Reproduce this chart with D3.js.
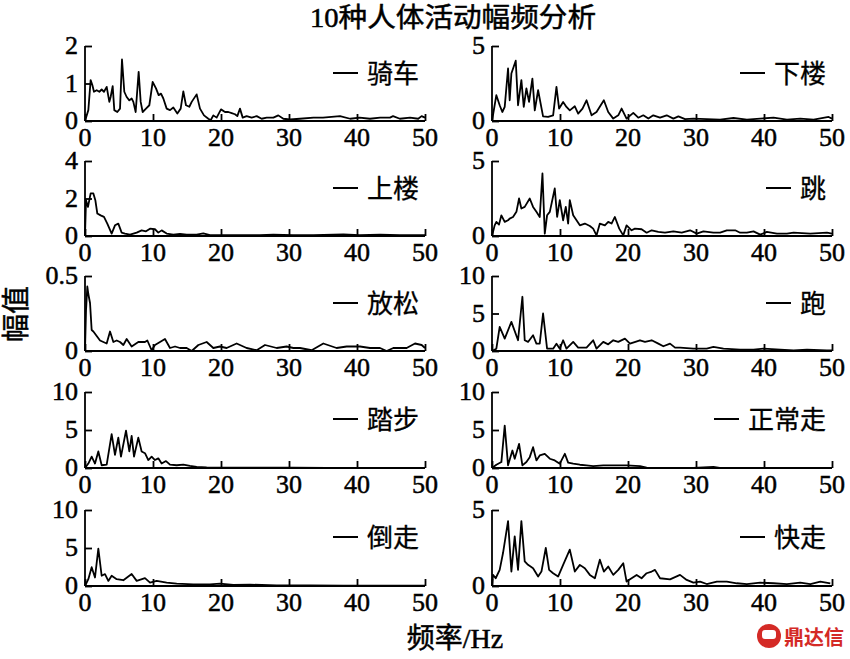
<!DOCTYPE html>
<html><head><meta charset="utf-8">
<script src="https://cdn.jsdelivr.net/npm/d3@7"></script>
<style>
html,body{margin:0;padding:0;background:#fff;}
svg{display:block;}
</style></head>
<body>
<svg id="c" width="850" height="659"></svg>
<script>
// ---- Data: [frequency Hz, amplitude] ----
const qiche = [[0,0],[0.49,0.29],[0.83,1.09],[1.08,0.96],[1.32,0.78],[1.72,0.82],[2.11,0.78],[2.45,0.84],[2.79,0.78],[3.19,0.91],[3.58,0.51],[3.77,0.64],[4.07,0.93],[4.31,0.29],[4.75,0.24],[5.15,0.33],[5.44,1.64],[5.78,0.78],[6.13,0.64],[6.52,0.55],[6.86,0.6],[7.11,0.51],[7.45,0.24],[7.89,1.31],[8.19,0.51],[8.48,0.24],[8.97,0.33],[9.46,0.42],[9.95,1.04],[10.44,0.87],[10.83,0.69],[11.18,0.73],[11.52,0.6],[12.01,0.33],[12.5,0.29],[12.99,0.36],[13.58,0.2],[14.07,0.33],[14.46,0.79],[14.85,0.42],[15.34,0.38],[15.69,0.51],[16.42,0.71],[16.91,0.33],[17.5,0.15],[18.14,0.06],[18.48,0.02],[18.87,0.15],[19.36,0.09],[20.0,0.31],[20.59,0.24],[21.08,0.24],[21.57,0.21],[22.06,0.18],[22.4,0.13],[22.79,0.33],[23.19,0.09],[23.77,0.13],[24.51,0.09],[25.25,0.13],[25.98,0.06],[26.72,0.09],[27.7,0.09],[28.43,0.15],[29.17,0.06],[30.15,0.04],[31.6,0.06],[33.6,0.09],[35.0,0.09],[37.5,0.13],[39.0,0.06],[40.4,0.09],[41.9,0.06],[43.4,0.09],[44.85,0.09],[45.3,0.13],[46.3,0.06],[47.8,0.09],[49.0,0.06],[49.5,0.13],[50,0.09]];
const xialou = [[0,0],[0.64,1.72],[1.13,1.05],[1.52,0.6],[1.87,0.94],[2.36,3.5],[2.6,1.38],[2.85,3.17],[3.49,4.02],[3.83,1.05],[4.32,2.72],[4.67,0.94],[5.06,2.17],[5.45,1.27],[5.94,2.83],[6.29,0.71],[6.78,2.05],[7.51,0.31],[8.25,0.27],[8.99,0.38],[9.48,2.28],[9.87,0.83],[10.46,1.27],[10.95,0.94],[11.44,0.71],[12.18,0.98],[12.67,0.49],[13.31,0.83],[13.9,1.38],[14.64,0.38],[15.37,0.6],[16.45,1.38],[17.09,0.6],[17.83,0.16],[18.57,0.38],[19.06,0.83],[19.79,0.16],[20.78,0.54],[21.51,0.22],[22.25,0.38],[22.99,0.16],[23.72,0.38],[24.71,0.22],[25.69,0.38],[26.67,0.16],[27.41,0.31],[28.39,0.13],[29.62,0.16],[31.58,0.13],[33.55,0.09],[35.51,0.2],[37.48,0.09],[39.44,0.16],[41.4,0.22],[43.37,0.09],[45.33,0.16],[47.3,0.09],[49.5,0.27],[50,0.16]];
const shanglou = [[0,0],[0.15,1.91],[0.44,1.55],[0.83,2.27],[1.23,2.27],[1.52,1.91],[1.81,1.2],[2.3,1.1],[2.79,1.02],[3.28,0.66],[3.92,0.13],[4.41,0.57],[4.9,0.66],[5.39,0.18],[5.88,0.13],[6.62,0.07],[7.6,0.18],[8.33,0.3],[8.97,0.25],[9.56,0.39],[10.29,0.36],[10.78,0.18],[11.27,0.3],[12.01,0.13],[12.99,0.07],[13.97,0.11],[14.95,0.07],[16.42,0.07],[17.4,0.14],[18.38,0.05],[20.83,0.05],[23.77,0.04],[25.7,0.04],[27.7,0.07],[30.6,0.04],[33.6,0.04],[38,0.09],[40.4,0.04],[43.4,0.07],[46.3,0.04],[50,0.04]];
const tiao = [[0,0],[0.39,0.71],[0.64,0.94],[1.03,0.76],[1.38,1.38],[1.87,0.94],[2.36,1.05],[2.6,1.16],[3.09,1.27],[3.59,1.61],[3.98,2.5],[4.32,1.83],[4.81,1.94],[5.55,2.5],[6.04,1.94],[6.53,1.61],[7.02,1.27],[7.42,4.17],[7.76,0.16],[8.1,1.38],[8.5,1.61],[9.23,3.17],[9.58,1.27],[9.97,2.39],[10.46,1.05],[10.85,1.94],[11.2,0.83],[11.44,2.39],[11.94,1.38],[12.43,1.05],[12.92,0.71],[13.65,0.83],[14.39,0.67],[14.88,0.49],[15.37,0.04],[15.86,0.83],[16.6,0.71],[17.09,0.94],[17.58,0.83],[18.07,1.27],[18.71,0.49],[19.3,0.04],[19.79,0.71],[20.53,0.38],[21.02,0.49],[22.0,0.45],[22.74,0.22],[23.48,0.38],[24.46,0.27],[25.44,0.22],[26.67,0.31],[27.9,0.22],[29.13,0.38],[30.11,0.16],[31.09,0.31],[32.56,0.22],[33.55,0.22],[34.53,0.38],[35.76,0.38],[36.49,0.22],[37.48,0.22],[38.46,0.31],[39.44,0.09],[40.42,0.27],[41.9,0.16],[43.37,0.16],[44.35,0.22],[46.81,0.16],[49.26,0.22],[50,0.16]];
const fangsong = [[0,0],[0.15,0.27],[0.34,0.43],[0.49,0.38],[0.74,0.32],[0.98,0.14],[1.23,0.13],[1.72,0.1],[2.21,0.07],[2.7,0.06],[3.19,0.05],[3.68,0.13],[4.17,0.06],[4.66,0.07],[5.15,0.06],[5.64,0.04],[6.13,0.08],[6.86,0.03],[7.84,0.06],[8.82,0.06],[9.17,0.07],[9.8,0.005],[10.29,0.04],[11.03,0.06],[11.76,0.08],[12.5,0.02],[13.24,0.03],[13.97,0.02],[14.95,0.02],[15.69,0.0],[16.67,0.04],[17.89,0.06],[18.87,0.02],[19.85,0.03],[20.83,0.02],[22.3,0.05],[23.77,0.02],[25.25,0.005],[26.47,0.04],[28.19,0.02],[29.66,0.03],[30.64,0.02],[31.62,0.02],[33.33,0.005],[35.05,0.05],[37.0,0.02],[38.48,0.03],[40.44,0.03],[41.91,0.02],[43.38,0.02],[44.36,0.0],[45.34,0.02],[46.32,0.02],[47.3,0.02],[48.53,0.05],[49.51,0.04],[50,0.02]];
const pao = [[0,0],[0.64,0.31],[1.13,3.21],[1.87,1.65],[2.85,3.88],[3.83,1.43],[4.47,7.23],[4.81,1.43],[5.3,1.21],[6.04,2.1],[6.53,0.98],[7.02,0.98],[7.51,5.0],[8.1,0.31],[8.99,0.31],[9.48,0.98],[9.97,0.31],[10.46,1.43],[10.95,0.31],[11.94,1.21],[12.67,0.45],[13.9,0.45],[14.88,1.43],[15.37,0.31],[16.36,1.21],[17.09,0.89],[17.83,1.43],[18.57,1.21],[19.55,1.65],[20.29,0.98],[21.76,1.43],[22.5,1.21],[23.48,1.43],[24.46,0.98],[25.2,0.63],[26.18,0.98],[26.92,0.45],[27.65,0.45],[29.62,0.31],[31.58,0.31],[32.56,0.54],[34.04,0.31],[36.49,0.18],[38.46,0.18],[39.93,0.31],[42.39,0.18],[44.35,0.09],[46.32,0.18],[49.26,0.09],[50,0.09]];
const tabu = [[0,0],[0.49,0.59],[0.98,1.5],[1.47,0.59],[1.96,2.18],[2.45,0.36],[3.19,0.45],[3.92,4.45],[4.41,1.73],[4.9,4.0],[5.29,1.5],[6.03,4.91],[6.52,2.18],[6.86,4.23],[7.21,1.5],[7.84,4.0],[8.33,2.18],[8.82,1.95],[9.31,1.05],[9.8,1.5],[10.29,1.05],[10.78,1.27],[11.27,0.59],[11.91,0.91],[12.5,0.45],[13.48,0.36],[14.46,0.45],[15.44,0.27],[16.42,0.14],[17.89,0.09],[20.83,0.05],[25.74,0.05],[30.64,0.05],[35.54,0.02],[40.44,0.02],[50,0.02]];
const zhengchang = [[0,0],[0.64,0.43],[1.38,0.78],[1.87,5.57],[2.36,0.35],[3.0,2.3],[3.34,1.22],[3.98,3.17],[4.47,0.35],[5.06,0.78],[5.55,1.43],[6.04,2.74],[6.53,1.0],[7.02,1.65],[7.76,1.87],[8.5,1.22],[9.23,1.0],[9.97,0.57],[10.71,1.87],[11.2,0.7],[11.94,0.57],[12.92,0.43],[13.9,0.35],[14.88,0.26],[16.36,0.35],[17.83,0.35],[19.79,0.35],[21.76,0.26],[22.74,0.04],[29.6,0.0],[32.56,0.13],[33.5,0],[50,0]];
const daozou = [[0,0],[0.49,0.9],[0.98,2.47],[1.47,1.12],[1.96,4.93],[2.45,1.35],[2.94,1.57],[3.43,0.67],[3.92,1.35],[4.66,0.9],[5.64,0.76],[6.86,1.57],[7.6,0.67],[8.82,1.03],[9.56,0.45],[10.54,0.67],[12.01,0.45],[13.48,0.31],[15.93,0.22],[18.38,0.22],[19.85,0.31],[21.81,0.13],[24.26,0.18],[28.19,0.09],[33.09,0.09],[38,0.04],[50,0.04]];
const kuaizou = [[0,0],[0.15,0.73],[0.54,0.51],[1.13,1.06],[1.62,2.17],[2.36,4.27],[2.85,0.95],[3.34,3.27],[3.83,1.06],[4.32,4.27],[4.81,1.62],[5.3,1.39],[6.04,1.17],[6.78,0.62],[7.27,0.95],[7.91,2.5],[8.4,1.06],[8.99,0.84],[9.72,0.62],[10.46,1.39],[11.44,2.39],[12.18,0.95],[12.92,1.39],[13.65,1.17],[14.39,0.73],[15.13,0.51],[15.86,1.73],[16.45,0.95],[17.09,1.28],[17.83,0.73],[18.57,1.06],[19.3,1.5],[19.79,0.29],[20.53,0.51],[21.27,0.73],[22.0,0.51],[22.74,0.84],[23.48,0.95],[23.97,1.06],[24.71,0.51],[26.18,0.44],[27.65,0.73],[28.63,0.4],[29.62,0.22],[30.6,0.29],[31.58,0.13],[33.06,0.29],[34.53,0.29],[36.0,0.18],[37.48,0.13],[39.44,0.22],[41.4,0.18],[43.37,0.13],[45.33,0.22],[46.81,0.13],[48.28,0.29],[49.75,0.18]];

const activityNames = ["骑车","下楼","上楼","跳","放松","跑","踏步","正常走","倒走","快走"];
const activitySeries = [qiche, xialou, shanglou, tiao, fangsong, pao, tabu, zhengchang, daozou, kuaizou];
const yMaxes = [2, 5, 4, 5, 0.5, 10, 10, 10, 10, 5];
const yTickValues = [[0,1,2],[0,5],[0,2,4],[0,5],[0,0.5],[0,5,10],[0,5,10],[0,5,10],[0,5,10],[0,5]];
const xTickValues = [0,10,20,30,40,50];
const titleText = "10种人体活动幅频分析";
const xLabelText = "频率/Hz";
const yLabelText = "幅值";

// ---- Layout ----
const svg = d3.select("#c");
const colX = [[85, 425], [492, 832]];
const rowY = [[46, 121], [161, 236], [276, 351], [392, 468], [510, 586]];
const numFont = "'Liberation Serif','Times New Roman',serif";
const cjkFont = "'Liberation Serif','Noto Sans CJK SC',serif";

function heavy(sel, w) {
  return sel.attr("stroke", "#000").attr("stroke-width", w).attr("paint-order", "stroke");
}

activityNames.forEach((name, i) => {
  const col = i % 2, row = Math.floor(i / 2);
  const [x0, x1] = colX[col];
  const [yTop, yBot] = rowY[row];
  const x = d3.scaleLinear().domain([0, 50]).range([x0, x1]);
  const y = d3.scaleLinear().domain([0, yMaxes[i]]).range([yBot, yTop]);
  const g = svg.append("g");

  // x axis (inward ticks)
  const xAxis = d3.axisTop(x).tickValues(xTickValues).tickSize(7).tickFormat("");
  const gx = g.append("g").attr("transform", `translate(0,${yBot})`).call(xAxis);
  gx.select(".domain").attr("d", `M${x0},0H${x1}`);
  gx.selectAll("line,path").attr("stroke", "#000").attr("stroke-width", 1.8);
  heavy(g.selectAll(".xl").data(xTickValues).join("text")
    .attr("x", d => x(d)).attr("y", yBot + 25)
    .attr("text-anchor", "middle")
    .attr("font-family", numFont).attr("font-size", 26)
    .attr("fill", "#000")
    .text(d => d), 0.5);

  // y axis (inward ticks)
  const yAxis = d3.axisRight(y).tickValues(yTickValues[i]).tickSize(7).tickFormat("");
  const gy = g.append("g").attr("transform", `translate(${x0},0)`).call(yAxis);
  gy.select(".domain").attr("d", `M0,${yTop}V${yBot}`);
  gy.selectAll("line,path").attr("stroke", "#000").attr("stroke-width", 1.8);
  heavy(g.selectAll(".yl").data(yTickValues[i]).join("text")
    .attr("x", x0 - 7).attr("y", d => y(d) + 8)
    .attr("text-anchor", "end")
    .attr("font-family", numFont).attr("font-size", 26)
    .attr("fill", "#000")
    .text(d => d), 0.5);

  // data line
  const line = d3.line().x(d => x(d[0])).y(d => y(d[1]));
  g.append("path").datum(activitySeries[i])
    .attr("d", line)
    .attr("fill", "none").attr("stroke", "#000")
    .attr("stroke-width", 1.8).attr("stroke-linejoin", "round");

  // legend
  const lg = g.append("g");
  const lt = heavy(lg.append("text")
    .attr("x", x1 - 6).attr("y", yTop + 37)
    .attr("text-anchor", "end")
    .attr("font-family", cjkFont).attr("font-size", 26)
    .attr("fill", "#000")
    .text(name), 0.3);
  const bb = lt.node().getBBox();
  lg.append("line")
    .attr("x1", bb.x - 34).attr("x2", bb.x - 9)
    .attr("y1", yTop + 27).attr("y2", yTop + 27)
    .attr("stroke", "#000").attr("stroke-width", 2);
});

// title
heavy(svg.append("text").attr("x", 453).attr("y", 27)
  .attr("text-anchor", "middle")
  .attr("font-family", cjkFont).attr("font-size", 27)
  .attr("textLength", 286).attr("lengthAdjust", "spacingAndGlyphs")
  .attr("fill", "#000")
  .text(titleText), 0.5);

// axis titles
heavy(svg.append("text").attr("x", 455).attr("y", 648)
  .attr("text-anchor", "middle")
  .attr("font-family", cjkFont).attr("font-size", 28)
  .attr("fill", "#000")
  .text(xLabelText), 0.5);
heavy(svg.append("text")
  .attr("transform", "translate(26,314) rotate(-90)")
  .attr("text-anchor", "middle")
  .attr("font-family", cjkFont).attr("font-size", 28)
  .attr("fill", "#000")
  .text(yLabelText), 0.5);

// watermark
const wm = svg.append("g");
wm.append("circle").attr("cx", 769).attr("cy", 636).attr("r", 12).attr("fill", "#d42a26");
wm.append("rect").attr("x", 762).attr("y", 630).attr("width", 14).attr("height", 9).attr("rx", 3).attr("fill", "#fff");
wm.append("text").attr("x", 784).attr("y", 645)
  .attr("font-family", "'Noto Sans CJK SC',sans-serif").attr("font-weight", 700)
  .attr("font-size", 20).attr("fill", "#d42a26")
  .text("鼎达信");
</script>
</body></html>
